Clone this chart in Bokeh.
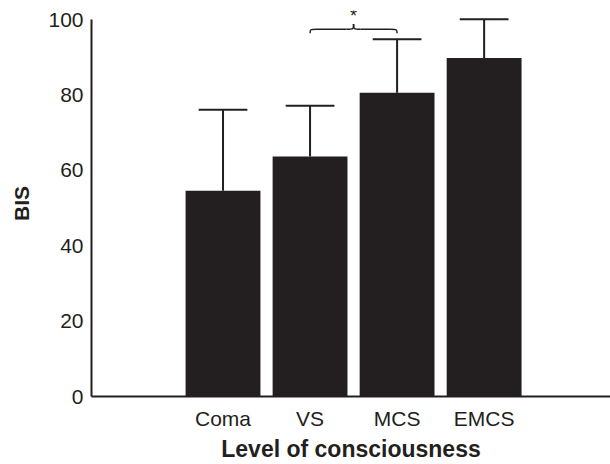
from bokeh.plotting import figure
from bokeh.models import FixedTicker, Range1d
from bokeh.core.properties import value
from bokeh.embed import file_html
from bokeh.resources import INLINE

# ---- data ----
categories = ["Coma", "VS", "MCS", "EMCS"]
bis_mean = [54.6, 63.7, 80.6, 89.8]
bis_sd = [21.5, 13.4, 14.2, 10.3]
y_ticks = [0, 20, 40, 60, 80, 100]
sig_pair = ("VS", "MCS")
sig_label = "*"

INK = "#231f20"
FONT = "Liberation Sans"

xs = [i + 1 for i in range(len(categories))]
upper = [m + s for m, s in zip(bis_mean, bis_sd)]

p = figure(width=610, height=464, output_backend="svg", toolbar_location=None,
           x_range=Range1d(-0.511, 5.452), y_range=Range1d(0, 102.4),
           min_border_left=91, min_border_right=0, min_border_top=10,
           min_border_bottom=66)

p.vbar(x=xs, top=bis_mean, width=0.86, fill_color=INK, line_color=None)
p.segment(x0=xs, y0=bis_mean, x1=xs, y1=upper, line_color=INK, line_width=2)
cap = 0.28
p.segment(x0=[x - cap for x in xs], y0=upper, x1=[x + cap for x in xs], y1=upper,
          line_color=INK, line_width=2)

# significance brace between the pair
xa = xs[categories.index(sig_pair[0])]
xb = xs[categories.index(sig_pair[1])]
xm = (xa + xb) / 2
y_end, y_mid, y_peak = 96.35, 97.4, 98.8
dx = 0.08
p.bezier(x0=[xa, xm - dx, xb, xm + dx], y0=[y_end, y_mid, y_end, y_mid],
         x1=[xa + dx, xm, xb - dx, xm], y1=[y_mid, y_peak, y_mid, y_peak],
         cx0=[xa, xm, xb, xm], cy0=[y_mid, y_mid, y_mid, y_mid],
         cx1=[xa, xm, xb, xm], cy1=[y_mid, y_mid, y_mid, y_mid],
         line_color=INK, line_width=1.5)
p.segment(x0=[xa + dx, xm + dx], y0=[y_mid, y_mid], x1=[xm - dx, xb - dx], y1=[y_mid, y_mid],
          line_color=INK, line_width=1.5)
p.text(x=[xm], y=[100.9], text=[sig_label], text_align="center", text_baseline="alphabetic",
       text_font=value(FONT), text_font_size="18px", text_color=INK)

# axes
for ax in (p.xaxis[0], p.yaxis[0]):
    ax.axis_line_color = INK
    ax.axis_line_width = 2
    ax.major_tick_line_color = None
    ax.minor_tick_line_color = None
    ax.major_tick_out = 0
    ax.major_tick_in = 0
    ax.major_label_text_font = FONT
    ax.major_label_text_font_size = "21px"
    ax.major_label_text_color = INK
    ax.axis_label_text_font = FONT
    ax.axis_label_text_font_style = "bold"
    ax.axis_label_text_color = INK

p.xaxis.ticker = FixedTicker(ticks=xs)
p.xaxis.major_label_overrides = {x: c for x, c in zip(xs, categories)}
p.xaxis.major_label_standoff = 10
p.xaxis.axis_label = "Level of consciousness"
p.xaxis.axis_label_text_font_size = "23px"
p.xaxis.axis_label_standoff = 3

p.yaxis.ticker = FixedTicker(ticks=y_ticks)
p.yaxis.bounds = (0, 100)
p.yaxis.major_label_standoff = 8
p.yaxis.axis_label = "BIS"
p.yaxis.axis_label_text_font_size = "21px"
p.yaxis.axis_label_standoff = 12

p.xgrid.visible = False
p.ygrid.visible = False
p.outline_line_color = None

open("out.html", "w").write(file_html(p, INLINE))
